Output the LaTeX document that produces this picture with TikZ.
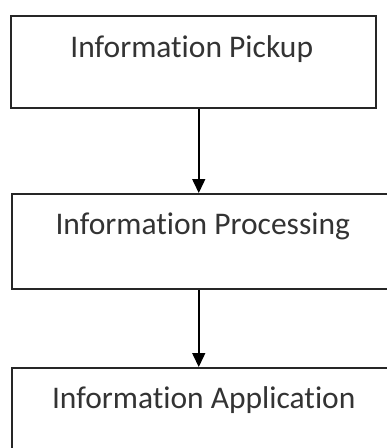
\documentclass[tikz,border=0pt]{standalone}
\usepackage{fontspec}
\setmainfont[Ligatures=NoCommon]{Carlito}
\usetikzlibrary{arrows.meta,calc}

\tikzset{
  stagebox/.style={draw=black!85, line width=1.5pt, rectangle, inner sep=0pt, anchor=north west},
  stagelabel/.style={anchor=base, text=black!80, font=\fontsize{31.5}{37}\selectfont},
  flowarrow/.style={draw=black, line width=1.5pt, -{Triangle[length=14pt,width=13pt]}}
}

\begin{document}
\begin{tikzpicture}[x=1pt,y=-1pt]
  \useasboundingbox (0,0) rectangle (387,448);
  \clip (0,0) rectangle (387,448);

  % three stages of the flow, top to bottom
  \node[stagebox, minimum width=365pt, minimum height=92pt] (pickup) at (10,15) {};
  \node[stagebox, minimum width=382pt, minimum height=95pt] (processing) at (11,193) {};
  \node[stagebox, minimum width=384pt, minimum height=110pt] (application) at (11,367) {};

  \node[stagelabel] (pickupText) at ($(pickup.north)+(-1.5,42)$) {Information Pickup};
  \node[stagelabel] (processingText) at ($(processing.north)+(0,41)$) {Information Processing};
  \node[stagelabel] (applicationText) at ($(application.north)+(0,41)$) {Information Application};

  % connectors between the stages
  \coordinate (c1) at ($(pickup.south)+(5.5,0)$);
  \coordinate (c2) at ($(processing.south)+(-4,0)$);
  \draw[flowarrow] (c1) -- (c1 |- processing.north);
  \draw[flowarrow] (c2) -- (c2 |- application.north);
\end{tikzpicture}
\end{document}
